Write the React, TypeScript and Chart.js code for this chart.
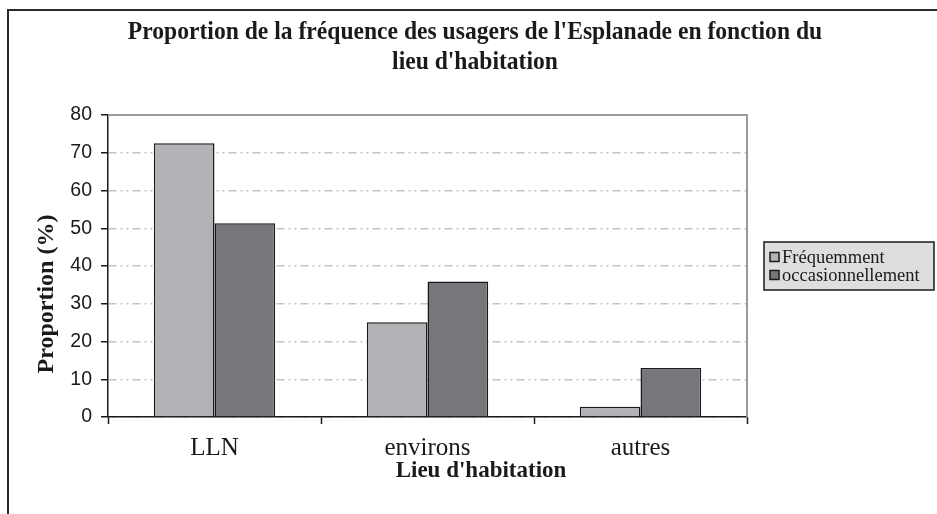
import React, { useEffect, useRef } from "react";
import { Chart, registerables } from "chart.js";

Chart.register(...registerables);

const titleLines = [
  "Proportion de la fréquence des usagers de l'Esplanade en fonction du",
  "lieu d'habitation",
];
const xAxisTitle = "Lieu d'habitation";
const yAxisTitle = "Proportion (%)";
const categories = ["LLN", "environs", "autres"];
const seriesLabels = ["Fréquemment", "occasionnellement"];
const frequemment = [72.5, 25.1, 2.7];
const occasionnellement = [51.3, 35.9, 13.0];
const seriesColors = ["#b2b3b7", "#76777b"];
const yMin = 0;
const yMax = 80;
const yStep = 10;

const SERIF = "'Liberation Serif', 'Times New Roman', serif";
const SANS = "'Liberation Sans', Arial, sans-serif";
const INK = "#1a1a1a";

function stretchedText(ctx: any, text: string, x: number, y: number, sy: number) {
  ctx.save();
  ctx.translate(x, y);
  ctx.scale(1, sy);
  ctx.fillText(text, 0, 0);
  ctx.restore();
}

const decorPlugin = {
  id: "decor",
  beforeDraw(chart: any) {
    const ctx = chart.ctx;
    ctx.save();
    ctx.fillStyle = "#ffffff";
    ctx.fillRect(0, 0, chart.width, chart.height);
    ctx.restore();
  },
  afterDatasetsDraw(chart: any) {
    const ctx = chart.ctx;
    const a = chart.chartArea;
    ctx.save();
    ctx.strokeStyle = "#9a9a9a";
    ctx.lineWidth = 2;
    ctx.beginPath();
    ctx.moveTo(a.left, a.top);
    ctx.lineTo(a.right, a.top);
    ctx.lineTo(a.right, a.bottom);
    ctx.stroke();
    ctx.restore();
  },
  afterDraw(chart: any) {
    const ctx = chart.ctx;
    ctx.save();
    ctx.strokeStyle = "#2a2a2a";
    ctx.lineWidth = 2;
    ctx.beginPath();
    ctx.moveTo(8, chart.height + 5);
    ctx.lineTo(8, 10);
    ctx.lineTo(chart.width + 5, 10);
    ctx.stroke();

    ctx.fillStyle = INK;
    ctx.textAlign = "center";
    ctx.textBaseline = "middle";
    ctx.font = "bold 23.6px " + SERIF;
    stretchedText(ctx, titleLines[0], 475, 33, 1.06);
    stretchedText(ctx, titleLines[1], 475, 63, 1.06);

    ctx.font = "bold 23px " + SERIF;
    ctx.fillText(xAxisTitle, 481, 471);

    ctx.save();
    ctx.translate(47, 294);
    ctx.rotate(-Math.PI / 2);
    ctx.font = "bold 24px " + SERIF;
    ctx.fillText(yAxisTitle, 0, 0);
    ctx.restore();

    const lx = 764, ly = 242, lw = 170, lh = 48;
    ctx.fillStyle = "#dedede";
    ctx.fillRect(lx, ly, lw, lh);
    ctx.strokeStyle = "#1a1a1a";
    ctx.lineWidth = 1.5;
    ctx.strokeRect(lx, ly, lw, lh);
    ctx.font = "18.5px " + SERIF;
    ctx.textAlign = "left";
    ctx.textBaseline = "middle";
    chart.data.datasets.forEach((ds: any, i: number) => {
      const cy = ly + 15 + i * 18;
      ctx.fillStyle = ds.backgroundColor;
      ctx.fillRect(770, cy - 4.5, 9, 9);
      ctx.strokeStyle = "#1a1a1a";
      ctx.lineWidth = 1.5;
      ctx.strokeRect(770, cy - 4.5, 9, 9);
      ctx.fillStyle = INK;
      ctx.fillText(ds.label, 782, cy + 1);
    });
    ctx.restore();
  },
};

export default function App() {
  const ref = useRef<HTMLCanvasElement | null>(null);
  useEffect(() => {
    if (!ref.current) return;
    const chart = new Chart(ref.current, {
      type: "bar",
      data: {
        labels: categories,
        datasets: [
          {
            label: seriesLabels[0],
            data: frequemment,
            backgroundColor: seriesColors[0],
            borderColor: "#1a1a1a",
            borderWidth: 1.5,
          },
          {
            label: seriesLabels[1],
            data: occasionnellement,
            backgroundColor: seriesColors[1],
            borderColor: "#1a1a1a",
            borderWidth: 1.5,
          },
        ],
      },
      options: {
        responsive: false,
        animation: false,
        devicePixelRatio: 1,
        layout: { padding: { left: 0, top: 115, right: 190, bottom: 0 } },
        datasets: { bar: { categoryPercentage: 0.57, barPercentage: 1 } },
        plugins: {
          legend: { display: false },
          title: { display: false },
          tooltip: { enabled: false },
        },
        scales: {
          x: {
            afterFit: (s: any) => {
              s.height = 97;
            },
            grid: {
              offset: true,
              drawOnChartArea: false,
              drawTicks: true,
              tickLength: 7,
              tickColor: "#1a1a1a",
              tickWidth: 1.5,
            },
            border: { color: "#1a1a1a", width: 1.5 },
            ticks: {
              color: INK,
              font: { family: SERIF, size: 25 },
              padding: 9,
            },
          },
          y: {
            min: yMin,
            max: yMax,
            afterFit: (s: any) => {
              s.width = 108;
            },
            grid: {
              color: "#c4c4c4",
              lineWidth: 1.5,
              drawTicks: true,
              tickLength: 7,
              tickColor: "#1a1a1a",
              tickWidth: 1.5,
              tickBorderDash: [],
            },
            border: { color: "#1a1a1a", width: 1.5, dash: [8, 4, 2, 4, 2, 4] },
            ticks: {
              stepSize: yStep,
              color: INK,
              font: { family: SANS, size: 19.5 },
              padding: 9,
            },
          },
        },
      },
      plugins: [decorPlugin],
    });
    return () => chart.destroy();
  }, []);
  return (
    <div style={{ position: "fixed", left: 0, top: 0, width: 937, height: 514, background: "#fff" }}>
      <canvas ref={ref} width={937} height={514} style={{ display: "block" }} />
    </div>
  );
}
